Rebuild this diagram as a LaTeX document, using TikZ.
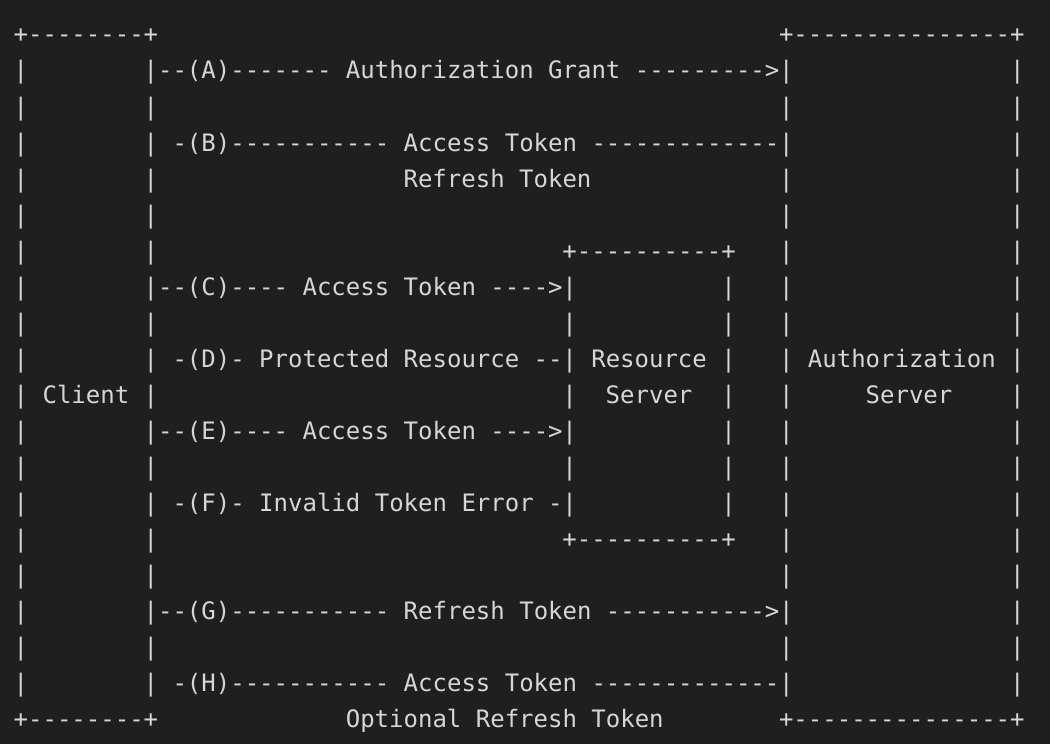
\documentclass[tikz,border=0pt]{standalone}
\usepackage{fontspec}
\setmonofont{DejaVu Sans Mono}
\usepackage{tikz}
\definecolor{termbg}{RGB}{31,31,31}
\definecolor{termfg}{RGB}{214,214,214}
\tikzstyle{chars} = [inner sep=0pt,anchor=base west,text=termfg,font=\ttfamily\fontsize{24bp}{36bp}\selectfont]

\begin{document}
\begin{tikzpicture}[x=1bp,y=-1bp]
          % screen
          \fill[termbg] (0,0) rectangle (1050,744);
          \useasboundingbox (0,0) rectangle (1050,744);

          % box borders
          \foreach \r in {1,...,18} {
            \foreach \c in {0,9,53,69} {
              \node[chars] (bar-\r-\c) at ({13.5+14.44*\c},{43+36*\r}) {|};
            }
          }
          \foreach \r in {7,...,13} {
            \foreach \c in {38,49} {
              \node[chars] (bar-\r-\c) at ({13.5+14.44*\c},{43+36*\r}) {|};
            }
          }
          \node[chars] (client-top) at ({13.5+14.44*0},{43+36*0}) {+--------+};
          \node[chars] (client-bot) at ({13.5+14.44*0},{43+36*19}) {+--------+};
          \node[chars] (auth-top) at ({13.5+14.44*53},{43+36*0}) {+---------------+};
          \node[chars] (auth-bot) at ({13.5+14.44*53},{43+36*19}) {+---------------+};
          \node[chars] (res-top) at ({13.5+14.44*38},{43+36*6}) {+----------+};
          \node[chars] (res-bot) at ({13.5+14.44*38},{43+36*14}) {+----------+};

          % box names
          \node[chars] (client) at ({13.5+14.44*2},{43+36*10}) {Client};
          \node[chars] (res-a) at ({13.5+14.44*40},{43+36*9}) {Resource};
          \node[chars] (res-b) at ({13.5+14.44*41},{43+36*10}) {Server};
          \node[chars] (auth-a) at ({13.5+14.44*55},{43+36*9}) {Authorization};
          \node[chars] (auth-b) at ({13.5+14.44*59},{43+36*10}) {Server};

          % flows
          \node[chars] (flow-a) at ({13.5+14.44*10},{43+36*1}) {--(A)------- Authorization Grant --------->};
          \node[chars] (flow-b) at ({13.5+14.44*11},{43+36*3}) {-(B)----------- Access Token -------------};
          \node[chars] (flow-b2) at ({13.5+14.44*27},{43+36*4}) {Refresh Token};
          \node[chars] (flow-c) at ({13.5+14.44*10},{43+36*7}) {--(C)---- Access Token ---->};
          \node[chars] (flow-d) at ({13.5+14.44*11},{43+36*9}) {-(D)- Protected Resource --};
          \node[chars] (flow-e) at ({13.5+14.44*10},{43+36*11}) {--(E)---- Access Token ---->};
          \node[chars] (flow-f) at ({13.5+14.44*11},{43+36*13}) {-(F)- Invalid Token Error -};
          \node[chars] (flow-g) at ({13.5+14.44*10},{43+36*16}) {--(G)----------- Refresh Token ----------->};
          \node[chars] (flow-h) at ({13.5+14.44*11},{43+36*18}) {-(H)----------- Access Token -------------};
          \node[chars] (flow-h2) at ({13.5+14.44*23},{43+36*19}) {Optional Refresh Token};

\end{tikzpicture}
\end{document}
